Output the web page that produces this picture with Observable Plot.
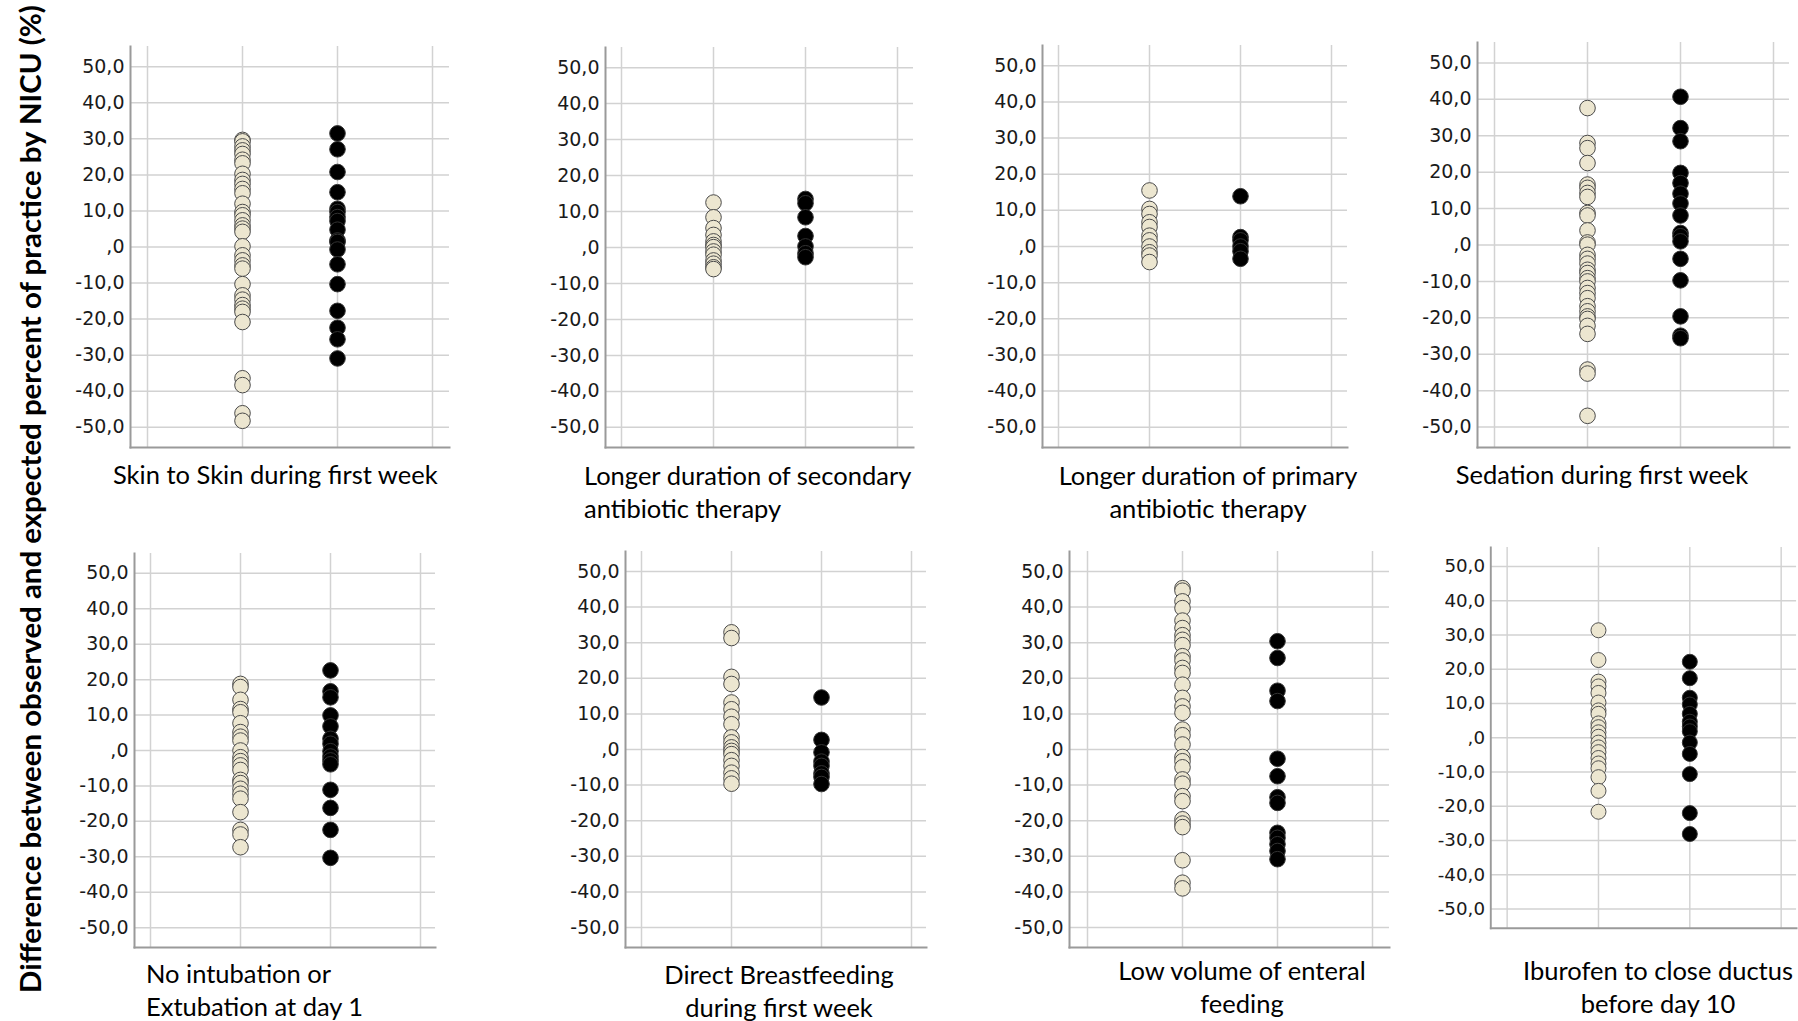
<!DOCTYPE html>
<html><head><meta charset="utf-8">
<script src="https://cdn.jsdelivr.net/npm/d3@7"></script>
<script src="https://cdn.jsdelivr.net/npm/@observablehq/plot@0.6"></script>
<style>
body{margin:0;background:#fff;}
#root{position:relative;width:1798px;height:1021px;overflow:hidden;background:#fff;}
.panel{position:absolute;}
.lbl{position:absolute;font-family:Lato, "Open Sans", sans-serif;font-size:25.5px;color:#000;line-height:33px;white-space:nowrap;}
.ytitle{position:absolute;left:29px;top:499px;transform:translate(-50%,-50%) rotate(-90deg);font-family:Lato, sans-serif;font-weight:bold;font-size:29.4px;white-space:nowrap;color:#000;}
</style></head><body><div id="root"></div>
<script>
// ---- data ----
const groups = ["Group 1", "Group 2"];
const yTicks = [-50, -40, -30, -20, -10, 0, 10, 20, 30, 40, 50];
const yTitle = "Difference between observed and expected percent of practice by NICU (%)";
const titles = [
  ["Skin to Skin during first week"],
  ["Longer duration of secondary", "antibiotic therapy"],
  ["Longer duration of primary", "antibiotic therapy"],
  ["Sedation during first week"],
  ["No intubation or", "Extubation at day 1"],
  ["Direct Breastfeeding", "during first week"],
  ["Low volume of enteral", "feeding"],
  ["Iburofen to close ductus", "before day 10"]
];
const skinA = [29.7, 29.3, 27.9, 26.8, 25.8, 24.2, 23.2, 20.3, 18.6, 17.5, 16.1, 14.9, 12.0, 9.7, 8.8, 7.4, 6.0, 5.1, 4.2, 0.2, -2.3, -3.7, -5.1, -6.0, -10.3, -13.4, -14.6, -16.1, -17.1, -18.0, -20.8, -36.4, -38.3, -46.1, -48.2];
const skinB = [31.5, 27.1, 20.8, 15.2, 10.6, 9.7, 8.3, 7.2, 4.8, 1.8, 1.4, -0.7, -4.8, -10.3, -17.7, -22.4, -25.6, -30.9];
const secAbA = [12.5, 8.4, 5.4, 3.5, 1.7, 0.7, 0.1, -1.1, -2.0, -3.6, -4.5, -5.5, -6.0];
const secAbB = [13.5, 12.3, 8.4, 3.2, 0.3, -1.6, -2.7];
const primAbA = [15.5, 10.4, 9.0, 6.7, 5.4, 3.0, 1.7, 0.0, -1.6, -2.5, -4.3];
const primAbB = [13.9, 2.6, 1.7, 0.0, -1.3, -3.4];
const sedA = [37.6, 28.0, 26.6, 22.5, 16.6, 15.7, 14.3, 13.2, 8.8, 8.1, 4.0, 0.7, 0.1, -2.7, -3.8, -5.1, -6.8, -7.7, -9.1, -10.0, -11.8, -13.2, -14.6, -16.8, -18.2, -19.6, -20.3, -22.2, -24.4, -34.2, -35.3, -46.9];
const sedB = [40.7, 32.1, 28.5, 19.8, 17.0, 14.1, 11.4, 8.1, 3.3, 2.4, 1.0, -3.8, -9.7, -19.6, -24.9, -25.6];
const intubA = [18.8, 17.9, 14.3, 11.7, 10.8, 7.7, 5.2, 3.9, 2.8, 0.0, -1.9, -3.0, -4.2, -5.5, -8.3, -9.2, -10.8, -12.2, -13.6, -17.4, -22.4, -23.7, -27.3];
const intubB = [22.6, 16.7, 15.0, 9.9, 6.8, 3.3, 1.9, -0.2, -1.7, -2.8, -3.9, -11.1, -16.2, -22.4, -30.3];
const breastA = [32.9, 31.3, 20.4, 18.4, 13.2, 11.3, 9.2, 7.1, 3.4, 2.0, 0.6, -0.4, -1.3, -3.0, -4.6, -6.5, -8.1, -9.6];
const breastB = [14.6, 2.7, -0.8, -3.4, -4.6, -6.7, -7.7, -9.7];
const enteralA = [45.3, 44.6, 41.6, 39.7, 36.2, 34.1, 32.1, 30.8, 29.3, 26.2, 25.0, 22.9, 21.5, 18.2, 14.5, 12.1, 10.3, 5.6, 4.0, 1.4, -2.1, -3.3, -5.0, -8.4, -9.6, -13.1, -14.5, -19.6, -20.8, -21.8, -31.1, -37.4, -39.0];
const enteralB = [30.4, 25.7, 16.5, 13.6, -2.6, -7.5, -13.4, -15.0, -23.4, -24.8, -26.6, -28.5, -30.8];
const ibuA = [31.4, 22.7, 16.4, 15.0, 13.1, 10.3, 8.0, 7.0, 4.2, 3.1, 1.6, 0.3, -1.4, -2.8, -4.2, -5.9, -7.5, -8.9, -11.5, -15.5, -21.6];
const ibuB = [22.2, 17.4, 11.7, 9.7, 7.0, 4.7, 3.3, 1.9, -1.4, -4.7, -10.6, -22.0, -28.1];
const seriesA = [skinA, secAbA, primAbA, sedA, intubA, breastA, enteralA, ibuA];
const seriesB = [skinB, secAbB, primAbB, sedB, intubB, breastB, enteralB, ibuB];

// ---- layout (frame edges in page pixels) ----
const frames = [
  {L: 130, T: 46, R: 449, B: 447},
  {L: 605, T: 47, R: 913, B: 447},
  {L: 1042, T: 45, R: 1347, B: 447},
  {L: 1477, T: 42, R: 1789, B: 447},
  {L: 134, T: 553, R: 435, B: 947},
  {L: 625, T: 551, R: 926, B: 947},
  {L: 1069, T: 551, R: 1389, B: 947},
  {L: 1493, T: 547, R: 1811, B: 943}
];
const labelPos = [
  {x: 113, y: 458, align: "left"},
  {x: 584, y: 459, align: "left"},
  {x: 1208, y: 459, align: "center"},
  {x: 1602, y: 458, align: "center"},
  {x: 146, y: 957, align: "left"},
  {x: 779, y: 958, align: "center"},
  {x: 1242, y: 954, align: "center"},
  {x: 1658, y: 954, align: "center"}
];

const root = document.getElementById("root");
const fmt = d => d === 0 ? ",0" : d.toFixed(1).replace(".", ",");
const xDomain = ["", groups[0], groups[1], " "];
const ML = 70, MR = 2, MT = 2, MB = 2;

frames.forEach((f, i) => {
  const rows = [
    ...seriesA[i].map(v => ({group: groups[0], value: v})),
    ...seriesB[i].map(v => ({group: groups[1], value: v}))
  ];
  const W = ML + (f.R - f.L) + MR;
  const H = MT + (f.B - f.T) + MB;
  const chart = Plot.plot({
    width: W, height: H,
    marginLeft: ML, marginRight: MR, marginTop: MT, marginBottom: MB,
    x: {type: "point", domain: xDomain, padding: 0.167, axis: null},
    y: {domain: [-55.6, 55.6], axis: null},
    style: {background: "transparent", overflow: "visible", fontFamily: "DejaVu Sans"},
    marks: [
      Plot.ruleY(yTicks, {stroke: "#d2d2d2", strokeWidth: 1.5}),
      Plot.ruleX(xDomain, {stroke: "#d2d2d2", strokeWidth: 1.5}),
      Plot.axisY({ticks: yTicks, tickSize: 0, tickPadding: 6, tickFormat: fmt, label: null,
        fontSize: 19, fontFamily: "DejaVu Sans", fill: "#1a1a1a"}),
      Plot.frame({anchor: "left", stroke: "#9a9a9a", strokeWidth: 2}),
      Plot.frame({anchor: "bottom", stroke: "#9a9a9a", strokeWidth: 2}),
      Plot.dot(rows, {x: "group", y: "value", r: 7.8,
        fill: d => d.group === groups[0] ? "#ece6d0" : "#000",
        stroke: d => d.group === groups[0] ? "#4a4a4a" : "#333", strokeWidth: 1})
    ]
  });
  const div = document.createElement("div");
  div.className = "panel";
  div.style.left = (f.L - ML) + "px";
  div.style.top = (f.T - MT) + "px";
  div.appendChild(chart);
  root.appendChild(div);

  const lp = labelPos[i];
  const lab = document.createElement("div");
  lab.className = "lbl";
  lab.style.top = lp.y + "px";
  lab.style.textAlign = lp.align;
  lab.style.left = lp.x + "px";
  if (lp.align === "center") lab.style.transform = "translateX(-50%)";
  lab.innerHTML = titles[i].map(t => `<div>${t}</div>`).join("");
  root.appendChild(lab);
});

const yt = document.createElement("div");
yt.className = "ytitle";
yt.textContent = yTitle;
root.appendChild(yt);
</script></body></html>
